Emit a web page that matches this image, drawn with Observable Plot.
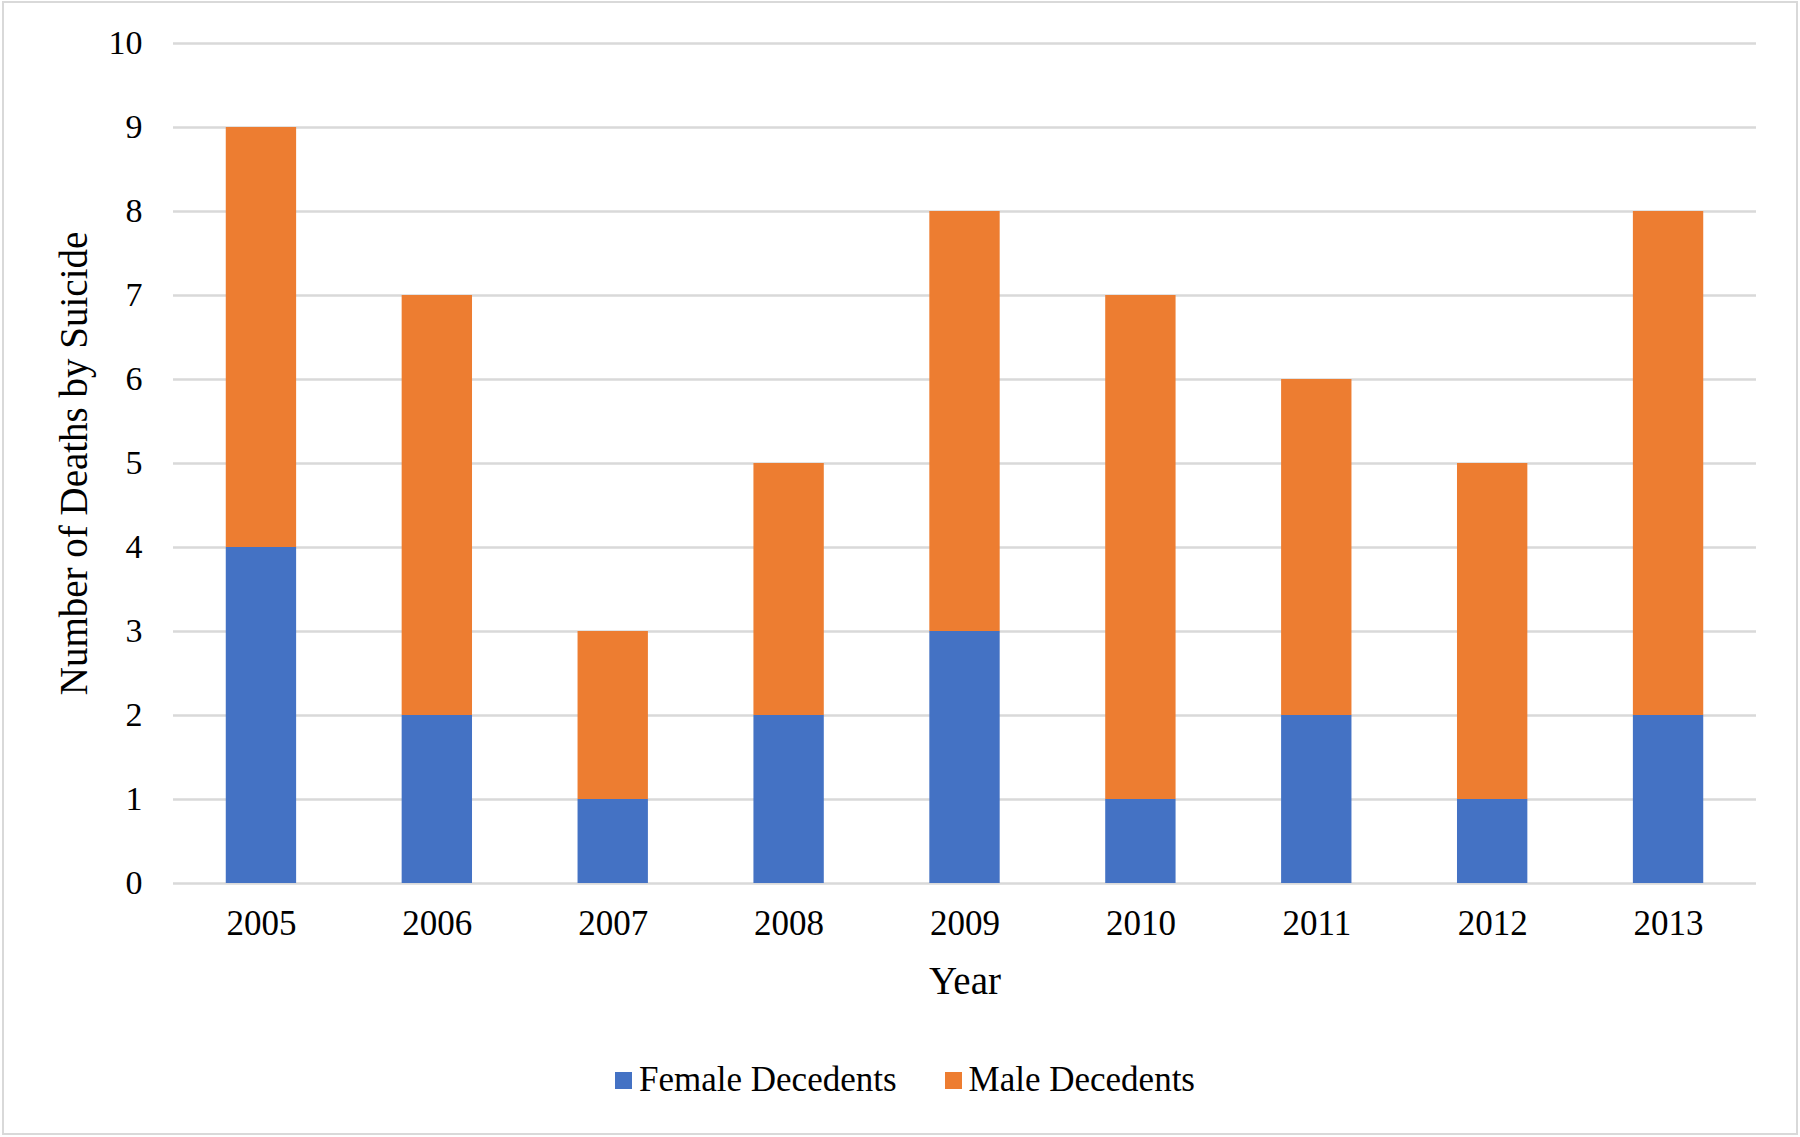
<!DOCTYPE html>
<html>
<head>
<meta charset="utf-8">
<script src="https://cdn.jsdelivr.net/npm/d3@7"></script>
<script src="https://cdn.jsdelivr.net/npm/@observablehq/plot@0.6"></script>
<style>
  html, body { margin: 0; padding: 0; background: #fff; }
  #wrap { position: relative; width: 1800px; height: 1137px; background: #fff; font-family: "Liberation Serif", "Times New Roman", serif; }
  #frame { position: absolute; left: 2px; top: 1px; width: 1796px; height: 1134px; box-sizing: border-box; border: 2px solid #d9d9d9; pointer-events: none; }
  #chart { position: absolute; left: 0; top: 0; }
  #legend { position: absolute; left: 0; top: 1060px; width: 1800px; display: flex; justify-content: center; align-items: center; font-size: 35px; color: #000; padding-left: 10px; box-sizing: border-box; }
  .item { display: flex; align-items: center; }
  .sw { width: 17px; height: 17px; margin-right: 7px; }
  .item + .item { margin-left: 48px; }
</style>
</head>
<body>
<div id="wrap">
  <div id="chart"></div>
  <div id="legend"></div>
  <div id="frame"></div>
</div>
<script>
const years = ["2005", "2006", "2007", "2008", "2009", "2010", "2011", "2012", "2013"];
const female = [4, 2, 1, 2, 3, 1, 2, 1, 2];
const male = [5, 5, 2, 3, 5, 6, 4, 4, 6];
const seriesNames = ["Female Decedents", "Male Decedents"];
const seriesColors = ["#4472C4", "#ED7D31"];
const yTicks = [0, 1, 2, 3, 4, 5, 6, 7, 8, 9, 10];

const rows = [];
years.forEach((y, i) => rows.push({year: y, series: seriesNames[0], value: female[i]}));
years.forEach((y, i) => rows.push({year: y, series: seriesNames[1], value: male[i]}));

const FF = "'Liberation Serif', 'Times New Roman', serif";
const W = 1800, H = 1030;
const plot = Plot.plot({
  width: W,
  height: H,
  marginLeft: 173,
  marginRight: 44,
  marginTop: 43,
  marginBottom: H - 883,
  style: {fontFamily: FF, fontSize: "34px", color: "#000", background: "transparent", overflow: "visible"},
  x: {domain: years, paddingInner: 0.6, paddingOuter: 0.3, round: false},
  y: {domain: [0, 10]},
  color: {domain: seriesNames, range: seriesColors},
  marks: [
    Plot.gridY(yTicks, {stroke: "#d9d9d9", strokeOpacity: 1, strokeWidth: 2.5}),
    Plot.barY(rows, {x: "year", y: "value", fill: "series", order: seriesNames}),
    Plot.axisY(yTicks, {tickSize: 0, tickPadding: 31, fontSize: 34, fontFamily: FF, tickFormat: d => String(d), label: "Number of Deaths by Suicide", labelAnchor: "center", labelArrow: "none", labelOffset: 114}),
    Plot.axisX({tickSize: 0, tickPadding: 27, fontSize: 35, fontFamily: FF, label: "Year", labelAnchor: "center", labelArrow: "none", labelOffset: 110})
  ]
});
document.getElementById("chart").appendChild(plot);

// enlarge axis titles
d3.select(plot).selectAll("g[aria-label='y-axis label'] text, g[aria-label='x-axis label'] text").style("font-size", "39px");

const legend = d3.select("#legend");
seriesNames.forEach((name, i) => {
  const it = legend.append("div").attr("class", "item");
  it.append("div").attr("class", "sw").style("background", seriesColors[i]);
  it.append("span").text(name);
});
</script>
</body>
</html>
